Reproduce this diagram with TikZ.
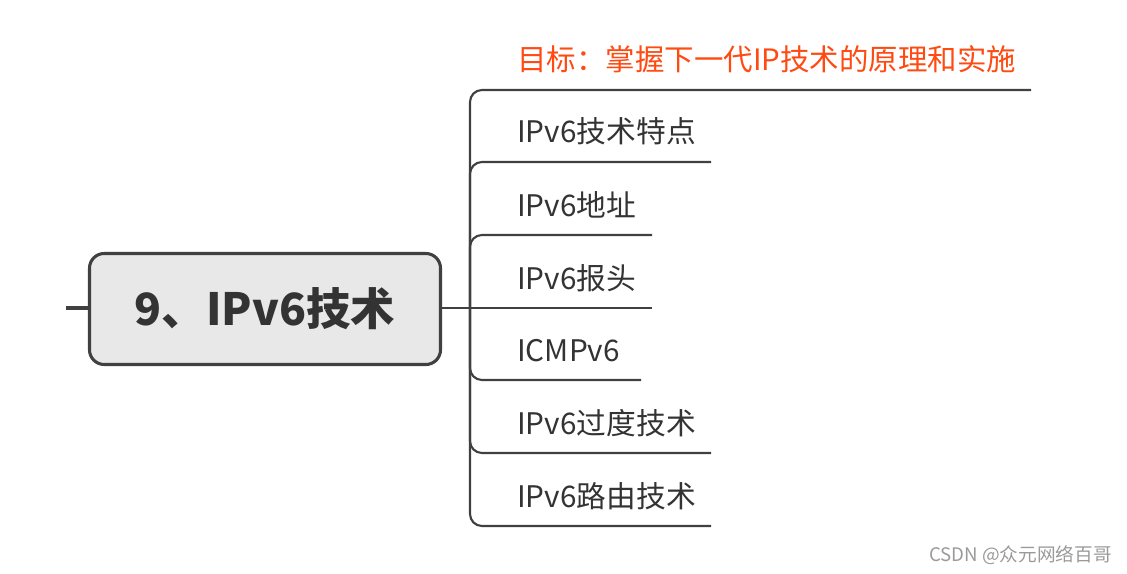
\documentclass[tikz,border=0pt]{standalone}
\usepackage{fontspec}
\setmainfont{Noto Sans CJK SC}
\definecolor{linec}{HTML}{404040}
\definecolor{textc}{HTML}{333333}
\definecolor{goalc}{HTML}{FF4A12}
\definecolor{boxfill}{HTML}{E8E8E8}
\definecolor{markc}{HTML}{9A9A9A}
\begin{document}
\begin{tikzpicture}[x=0.75pt,y=-0.75pt,
  conn/.style={draw=linec,line width=1.6pt,rounded corners=9pt},
  leaf/.style={anchor=base west,inner sep=0pt,text=textc,font=\fontsize{22.3}{26}\selectfont},
  rootbox/.style={draw=linec,fill=boxfill,line width=2.3pt,rounded corners=11pt,
    minimum width=351*0.75pt,minimum height=111*0.75pt,inner sep=0pt,
    text=textc,font=\fontsize{33.3}{40}\selectfont\bfseries}]
\useasboundingbox (0,0) rectangle (1127,574);
\node[rootbox] (root) at (265,309) {9、IPv6技术};
\coordinate (stub) at (66,308);
\coordinate (j) at (470,308);
\draw[draw=linec,line width=2.3pt] (stub) -- (root.west |- stub);
\draw[draw=linec,line width=1.8pt] (root.east |- j) -- (j);
% leaves
\node[leaf,text=goalc,font=\fontsize{22.1}{26}\selectfont] (g) at (517,71) {目标：掌握下一代IP技术的原理和实施};
\node[leaf] (a) at (517,143) {IPv6技术特点};
\node[leaf] (b) at (517,216) {IPv6地址};
\node[leaf] (c) at (517,289) {IPv6报头};
\node[leaf] (d) at (517,361) {ICMPv6};
\node[leaf] (e) at (517,434) {IPv6过度技术};
\node[leaf] (f) at (517,507) {IPv6路由技术};
\coordinate (ge) at (1031,90);
\coordinate (ae) at (711,162);
\coordinate (be) at (652,235);
\coordinate (ce) at (652,308);
\coordinate (de) at (641,380);
\coordinate (ee) at (711,453);
\coordinate (fe) at (711,526);
\foreach \t in {ge,ae,be,de,ee,fe} \draw[conn] (j) |- (\t);
\draw[conn] (j) -- (ce);
\node[anchor=base east,inner sep=0pt,text=markc,font=\fontsize{14}{17}\selectfont] (wm) at (1112,561) {CSDN @众元网络百哥};
\end{tikzpicture}
\end{document}
